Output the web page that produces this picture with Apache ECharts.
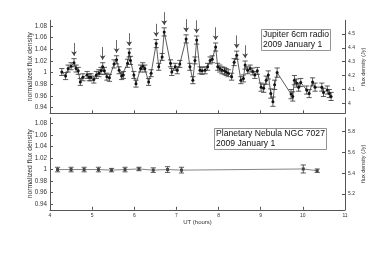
<!DOCTYPE html>
<html><head><meta charset="utf-8">
<script src="https://cdn.jsdelivr.net/npm/echarts@6/dist/echarts.min.js"></script>
<style>html,body{margin:0;padding:0;background:#fff}#c{width:382px;height:273px}</style>
</head><body><div id="c"></div>
<script>
// ---- data ----
var jupHours = [4.28,4.37,4.43,4.50,4.57,4.62,4.67,4.72,4.78,4.88,4.93,4.97,5.04,5.10,5.16,5.21,5.25,5.29,5.35,5.41,5.52,5.58,5.64,5.70,5.74,5.84,5.88,5.91,5.99,6.04,6.15,6.20,6.25,6.34,6.40,6.52,6.58,6.66,6.71,6.86,6.89,6.97,7.02,7.08,7.23,7.32,7.39,7.44,7.48,7.56,7.61,7.68,7.74,7.80,7.85,7.93,7.98,8.03,8.08,8.14,8.18,8.23,8.31,8.37,8.43,8.53,8.59,8.63,8.69,8.75,8.81,8.86,8.92,9.01,9.07,9.13,9.18,9.24,9.29,9.33,9.39,9.72,9.76,9.80,9.85,9.90,9.95,10.09,10.15,10.23,10.29,10.45,10.49,10.58,10.63,10.67];
var jupFlux = [1.001,0.994,1.007,1.011,1.017,1.007,1.003,0.984,0.992,0.996,0.992,0.992,0.988,0.996,0.999,1.003,1.010,1.003,0.993,0.991,1.015,1.022,1.004,0.994,0.996,1.016,1.034,1.021,0.996,0.981,1.007,1.011,1.007,0.984,0.999,1.050,1.010,1.027,1.070,1.016,1.001,1.010,1.004,1.015,1.058,1.010,0.987,1.021,1.056,1.004,1.003,1.004,1.010,1.021,1.023,1.044,1.010,1.007,1.004,1.003,1.001,0.999,0.993,1.018,1.030,0.987,0.990,1.013,1.004,1.007,1.002,0.996,1.003,0.975,0.973,0.987,0.996,0.964,0.950,0.979,1.000,0.963,0.959,0.987,0.982,0.975,0.983,0.970,0.964,0.984,0.975,0.975,0.966,0.970,0.964,0.959];
var jupErr = [0.006,0.006,0.006,0.006,0.007,0.006,0.006,0.006,0.006,0.006,0.006,0.006,0.006,0.006,0.006,0.006,0.007,0.006,0.006,0.006,0.007,0.007,0.006,0.006,0.006,0.007,0.007,0.007,0.006,0.006,0.006,0.006,0.006,0.006,0.006,0.007,0.006,0.006,0.007,0.006,0.006,0.006,0.006,0.006,0.007,0.006,0.006,0.006,0.007,0.006,0.006,0.006,0.006,0.006,0.006,0.007,0.006,0.006,0.006,0.006,0.006,0.006,0.006,0.006,0.007,0.006,0.006,0.007,0.006,0.006,0.006,0.006,0.006,0.007,0.007,0.007,0.007,0.008,0.008,0.008,0.008,0.008,0.008,0.008,0.007,0.007,0.007,0.007,0.007,0.007,0.007,0.007,0.007,0.007,0.007,0.007];
var jupArrowHours = [4.57,5.25,5.58,5.88,6.52,6.71,7.23,7.48,7.93,8.43,8.63];
var pnHours = [4.18,4.50,4.81,5.15,5.46,5.78,6.11,6.45,6.79,7.12,10.01,10.34];
var pnFlux  = [1.000,1.000,1.000,1.000,0.999,1.000,1.001,0.999,1.000,0.999,1.001,0.998];
var pnErr   = [0.004,0.004,0.004,0.004,0.003,0.004,0.003,0.004,0.005,0.005,0.007,0.003];
var leftTicks = [0.94,0.96,0.98,1.00,1.02,1.04,1.06,1.08];
var rightTicksTop = [4.0,4.1,4.2,4.3,4.4,4.5];
var rightTicksBot = [5.2,5.4,5.6,5.8];
var xTicks = [4,5,6,7,8,9,10,11];
var title1 = 'Jupiter 6cm radio\n2009 January 1';
var title2 = 'Planetary Nebula NGC 7027\n2009 January 1';
var xName = 'UT (hours)';
var leftName = 'normalized flux density';
var rightName = 'flux density (Jy)';

// ---- build ----
var FONT = 'Liberation Sans, Arial, sans-serif';
var AX = '#555';
function pairs(xs, ys){ return xs.map(function(x,i){ return [x, ys[i]]; }); }
function errs(xs, ys, es){ return xs.map(function(x,i){ return [x, ys[i]-es[i], ys[i]+es[i]]; }); }
function errRender(params, api){
  var x = api.value(0);
  var a = api.coord([x, api.value(1)]), b = api.coord([x, api.value(2)]);
  var hw = 2.6, st = {stroke:'#333', lineWidth:0.8};
  return {type:'group', children:[
    {type:'line', shape:{x1:a[0],y1:a[1],x2:b[0],y2:b[1]}, style:st},
    {type:'line', shape:{x1:a[0]-hw,y1:a[1],x2:a[0]+hw,y2:a[1]}, style:st},
    {type:'line', shape:{x1:b[0]-hw,y1:b[1],x2:b[0]+hw,y2:b[1]}, style:st}
  ]};
}
var arrows = jupArrowHours.map(function(h){
  var v = jupFlux[jupHours.indexOf(h)];
  return {coords:[[h, v+0.034],[h, v+0.012]]};
});
function fmt(v){ return String(+(+v).toFixed(2)); }
function xAx(i, labels){
  return {gridIndex:i, type:'value', min:4, max:11, interval:1,
    axisLine:{show:true, lineStyle:{color:AX, width:1}},
    axisTick:{show:true, inside:true, length:3, lineStyle:{color:AX}},
    axisLabel:{show:labels, fontSize:5, color:'#333', fontFamily:FONT, margin:3},
    splitLine:{show:false},
    name: labels ? xName : '', nameLocation:'middle', nameGap:10, nameMoveOverlap:false,
    nameTextStyle:{fontSize:6, color:'#333', fontFamily:FONT}};
}
function yAx(i, pos, min, max, ticks, fs, name, gap, nfs){
  return {gridIndex:i, type:'value', position:pos, min:min, max:max,
    axisLine:{show:true, onZero:false, lineStyle:{color:AX, width:1}},
    axisTick:{show:true, inside:true, length:3, customValues:ticks, lineStyle:{color:AX}},
    axisLabel:{show:true, customValues:ticks, formatter:fmt, fontSize:fs, color:'#333', fontFamily:FONT, margin:3},
    splitLine:{show:false},
    name:name, nameLocation:'middle', nameRotate:90, nameGap:gap, nameMoveOverlap:false,
    nameTextStyle:{fontSize:nfs, color:'#333', fontFamily:FONT}};
}
var option = {
  animation:false,
  backgroundColor:'#fff',
  title:[
    {text:title1, left:261, top:29, padding:[1,2,1,2], borderColor:'#777', borderWidth:0.8, backgroundColor:'#fff',
     textStyle:{fontSize:8.6, fontWeight:'normal', color:'#111', fontFamily:FONT, lineHeight:10}},
    {text:title2, left:214, top:128, padding:[1,2,1,2], borderColor:'#777', borderWidth:0.8, backgroundColor:'#fff',
     textStyle:{fontSize:8.6, fontWeight:'normal', color:'#111', fontFamily:FONT, lineHeight:10}}
  ],
  grid:[{left:50, right:37, top:20.3, height:93}, {left:50, right:37, top:117.8, height:92}],
  xAxis:[xAx(0,false), xAx(1,true)],
  yAxis:[
    yAx(0,'left',0.93,1.09,leftTicks,6.3,leftName,16,6.8),
    yAx(0,'right',3.928,4.599,rightTicksTop,5,rightName,15,5.5),
    yAx(1,'left',0.93,1.09,leftTicks,6.3,leftName,16,6.8),
    yAx(1,'right',5.049,5.932,rightTicksBot,5,rightName,15,5.5)
  ],
  series:[
    {type:'custom', xAxisIndex:0, yAxisIndex:0, renderItem:errRender, data:errs(jupHours,jupFlux,jupErr), encode:{x:0,y:[1,2]}, z:2, clip:false},
    {type:'line', xAxisIndex:0, yAxisIndex:0, data:pairs(jupHours,jupFlux), symbol:'circle', symbolSize:3, showSymbol:true, showAllSymbol:true,
     lineStyle:{color:'#333', width:0.8}, itemStyle:{color:'#111'}, z:3, clip:false},
    {type:'lines', coordinateSystem:'cartesian2d', xAxisIndex:0, yAxisIndex:0, data:arrows, symbol:['none','arrow'], symbolSize:[0,4.5],
     lineStyle:{color:'#444', width:0.8, opacity:1}, z:4, clip:false},
    {type:'custom', xAxisIndex:1, yAxisIndex:2, renderItem:errRender, data:errs(pnHours,pnFlux,pnErr), encode:{x:0,y:[1,2]}, z:2},
    {type:'line', xAxisIndex:1, yAxisIndex:2, data:pairs(pnHours,pnFlux), symbol:'rect', symbolSize:3, showSymbol:true,
     lineStyle:{color:'#666', width:0.8}, itemStyle:{color:'#444'}, z:3}
  ]
};
var chart = echarts.init(document.getElementById('c'), null, {renderer:'canvas'});
chart.setOption(option);
</script>
</body></html>
